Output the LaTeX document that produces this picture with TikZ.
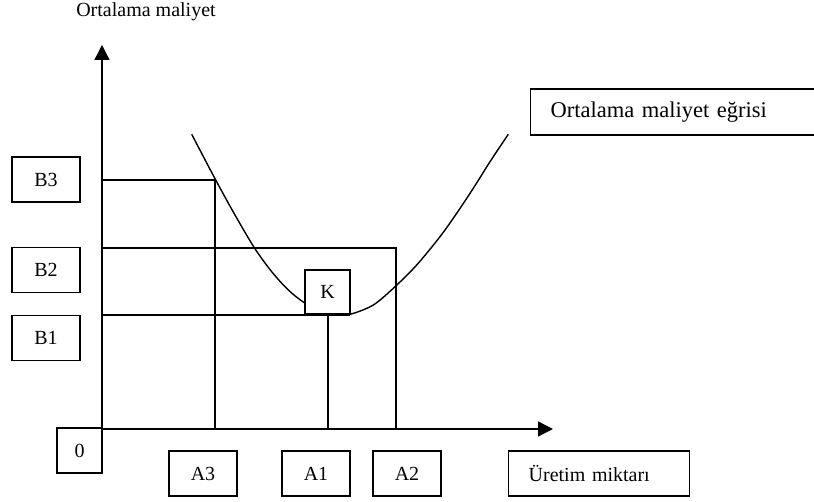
\documentclass[tikz,border=0pt]{standalone}
\usepackage{fontspec}
\setmainfont{Liberation Serif}
\usetikzlibrary{arrows.meta}
\tikzset{
  valbox/.style={draw, line width=1.4pt, fill=white, minimum width=68pt,
    minimum height=45pt, inner sep=0pt, font=\fontsize{20}{24}\selectfont},
  axis/.style={line width=1.4pt, -{Triangle[length=15pt,width=15pt]}}
}

\begin{document}
\begin{tikzpicture}[x=1pt,y=-1pt,line width=1.4pt]
\useasboundingbox (0,0) rectangle (814,502);
% axes
\coordinate (O) at (102,429);
\coordinate (ytop) at (102,45);
\coordinate (xend) at (553,429);
\draw[axis] (O) -- (ytop);
\draw[axis] (O) -- (xend);
\node[font=\fontsize{20}{24}\selectfont] (ylabel) at (146,12) {Ortalama maliyet};
% levels
\draw (102,180) -- (215,180) -- (215,429);
\draw (102,248) -- (396,248) -- (396,429);
\draw (102,315) -- (350,315);
\draw (328,315) -- (328,429);
% curve
\draw plot[smooth] coordinates {(191.7,134.3) (215.7,180) (235,215) (254.3,247.7) (271.7,271.7) (288.3,290) (304.3,302.7) (320,310)}
  -- plot[smooth] coordinates {(335,314) (350,314.3) (373.3,305) (395,286.7) (416.7,265) (440,236.7) (456.7,213.3) (473.3,188.3) (490,161.7) (508.3,134.3)};
\node[valbox, minimum width=45pt, minimum height=44pt] (K) at (327.5,292) {K};
% value boxes
\node[valbox] (B3) at (46,179.5) {B3};
\node[valbox] (B2) at (46,270) {B2};
\node[valbox] (B1) at (46,338) {B1};
\node[valbox, minimum width=45pt] (zero) at (79.5,450.5) {0};
\foreach \n/\x in {A3/203, A1/316, A2/407}
  \node[valbox] (\n) at (\x,473.5) {\n};
\node[valbox, anchor=west, minimum width=181pt, text width=141pt, inner xsep=20pt, align=left] (xlabel) at (508,473.5) {Üretim miktarı};
\node[valbox, anchor=west, minimum height=46pt, text width=280pt, inner xsep=20pt, align=left, font=\fontsize{22.5}{26}\selectfont] (curvelabel) at (530,112) {Ortalama maliyet eğrisi};
\end{tikzpicture}
\end{document}
